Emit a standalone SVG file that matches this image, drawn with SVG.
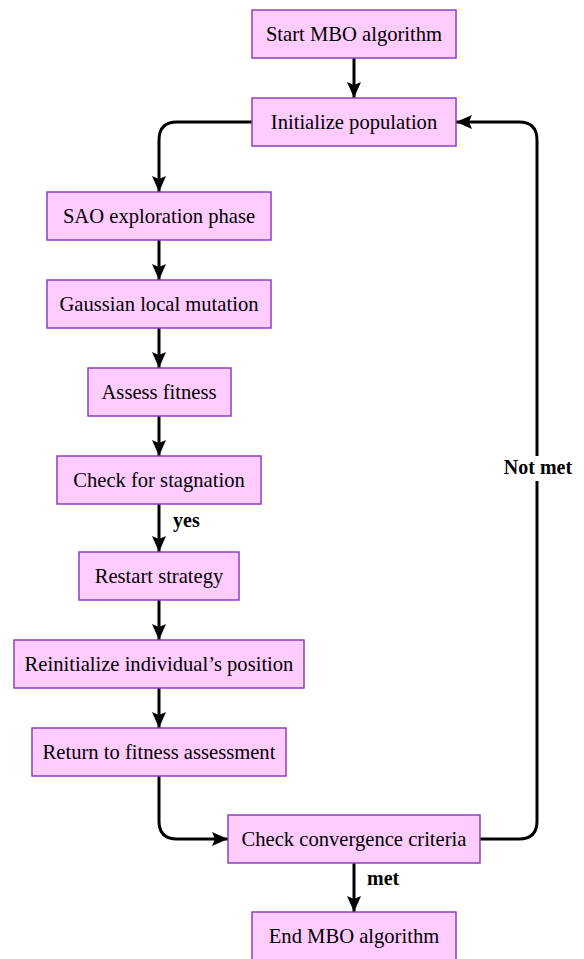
<svg xmlns="http://www.w3.org/2000/svg" width="584" height="959" viewBox="0 0 584 959">
<style>
.n rect{fill:#ffccff;stroke:#8e3fc2;stroke-width:1.5}
.n text{font-size:20.6px;fill:#000;text-anchor:middle}
.c path{fill:none;stroke:#000;stroke-width:3}
.lbl{font-size:20px;font-weight:bold;fill:#000}
</style>
<defs>
<marker id="ah" markerUnits="userSpaceOnUse" markerWidth="16" markerHeight="16" viewBox="0 0 16 16" refX="16" refY="8" orient="auto">
<path d="M0,1 L16,8 L0,15 L3,8 Z" fill="#000"/>
</marker>
</defs>
<g class="c" id="connectors">
<path d="M354,58 V98" marker-end="url(#ah)"/>
<path d="M252,122 H177 Q159,122 159,140 V192" marker-end="url(#ah)"/>
<path d="M159,240 V280" marker-end="url(#ah)"/>
<path d="M159,328 V368" marker-end="url(#ah)"/>
<path d="M159,416 V456" marker-end="url(#ah)"/>
<path d="M159,504 V552" marker-end="url(#ah)"/>
<path d="M159,600 V640" marker-end="url(#ah)"/>
<path d="M159,688 V728" marker-end="url(#ah)"/>
<path d="M159,776 V821 Q159,839 177,839 H228" marker-end="url(#ah)"/>
<path d="M480,839 H519 Q537,839 537,821 V140 Q537,122 519,122 H456" marker-end="url(#ah)"/>
<path d="M354,863 V912" marker-end="url(#ah)"/>
</g>
<g id="labels" font-family="'Liberation Serif', 'Times New Roman', serif">
<text class="lbl" x="173" y="527">yes</text>
<text class="lbl" x="367" y="885">met</text>
<rect x="502" y="456" width="72" height="25" fill="#fff"/>
<text class="lbl" x="538" y="474" text-anchor="middle">Not met</text>
</g>
<g id="nodes" font-family="'Liberation Serif', 'Times New Roman', serif">
<g class="n" id="start"><rect x="252" y="10" width="204" height="48"/><text x="354" y="41">Start MBO algorithm</text></g>
<g class="n" id="init"><rect x="252" y="98" width="204" height="48"/><text x="354" y="129">Initialize population</text></g>
<g class="n" id="sao"><rect x="47" y="192" width="224" height="48"/><text x="159" y="223">SAO exploration phase</text></g>
<g class="n" id="gauss"><rect x="47" y="280" width="224" height="48"/><text x="159" y="311">Gaussian local mutation</text></g>
<g class="n" id="assess"><rect x="88" y="368" width="143" height="48"/><text x="159" y="399">Assess fitness</text></g>
<g class="n" id="stagnation"><rect x="57" y="456" width="204" height="48"/><text x="159" y="487">Check for stagnation</text></g>
<g class="n" id="restart"><rect x="79" y="552" width="160" height="48"/><text x="159" y="583">Restart strategy</text></g>
<g class="n" id="reinit"><rect x="14" y="640" width="290" height="48"/><text x="159" y="671">Reinitialize individual’s position</text></g>
<g class="n" id="return"><rect x="32" y="728" width="254" height="48"/><text x="159" y="759">Return to fitness assessment</text></g>
<g class="n" id="converge"><rect x="228" y="815" width="252" height="48"/><text x="354" y="846">Check convergence criteria</text></g>
<g class="n" id="end"><rect x="252" y="912" width="204" height="48"/><text x="354" y="943">End MBO algorithm</text></g>
</g>
</svg>
